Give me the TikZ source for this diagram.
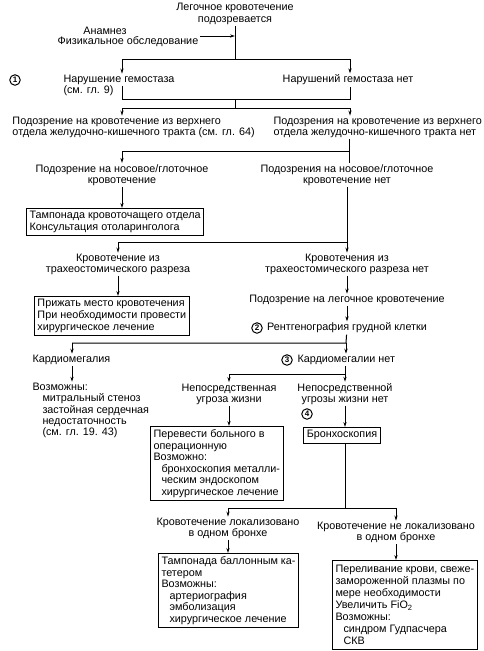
\documentclass[tikz,border=0pt]{standalone}
\usepackage{fontspec}
\setmainfont{Liberation Sans}
\usepackage{tikz}
\usetikzlibrary{arrows.meta}
\usetikzlibrary{calc}

\begin{document}
\begin{tikzpicture}[x=1pt,y=-1pt,line width=1pt,
        font=\fontsize{10.8}{11.2}\selectfont,
        >={Stealth[length=5pt,width=3.2pt]},
        every node/.style={inner sep=1pt},
        txt/.style={align=center},
        lft/.style={align=left},
        box/.style={draw,align=left,inner sep=3pt,font=\fontsize{10.8}{11.6}\selectfont},
        num/.style={draw,circle,inner sep=0pt,minimum size=10.5pt,font=\fontsize{8}{8}\selectfont\bfseries}]
        \useasboundingbox (0,0) rectangle (484,651);

        \node[txt] (suspected) at (235,14) {Легочное кровотечение\\подозревается};
        \node (history) at (105,31) {Анамнез}; \node (exam) at (128,42)
        {Физикальное обследование};
        \node[num] (num1) at (15,80) {1}; \node[lft,anchor=west] (hemo) at
        (62,85.5) {Нарушение гемостаза\\(см. гл. 9)}; \node (nohemo) at
        (348,80) {Нарушений гемостаза нет};
        \node[lft,anchor=west] (upgi) at (11,127.5) {Подозрение на
            кровотечение из верхнего\\отдела желудочно-кишечного тракта (см.
            гл. 64)}; \node[lft,anchor=west] (noupgi) at (272,127.5)
        {Подозрения на кровотечение из верхнего\\отдела
            желудочно-кишечного тракта нет};
        \node[txt] (nasal) at (122,175) {Подозрение на
            носовое/глоточное\\кровотечение}; \node[txt] (nonasal) at
        (347,175) {Подозрения на носовое/глоточное\\кровотечение нет};
        \node[box,anchor=north west] (tamponade) at (26,208) {Тампонада
            кровоточащего отдела\\Консультация отоларинголога};
        \node[txt] (trach) at (118,264.5) {Кровотечение
            из\\трахеостомического разреза}; \node[txt] (notrach) at
        (347,264.5) {Кровотечения из\\трахеостомического разреза нет};
        \node[box,anchor=north west] (press) at (34,296) {Прижать место
            кровотечения\\При необходимости провести\\хирургическое
            лечение};
        \node (pulm) at (347,300) {Подозрение на легочное кровотечение};
        \node[num] (num2) at (257,328) {2}; \node (xray) at (347,328)
        {Рентгенография грудной клетки};
        \node[lft,anchor=west] (cardio) at (31,360) {Кардиомегалия};
        \node[num] (num3) at (287,360) {3}; \node[anchor=west] (nocardio)
        at (296,360) {Кардиомегалии нет};
        \node[lft,anchor=west] (possible) at (31,410.5)
        {Возможны:\\\hspace*{10pt}митральный стеноз\\\hspace*{10pt}застойная
            сердечная\\\hspace*{10pt}недостаточность\\\hspace*{10pt}(см. гл.
            19. 43)};
        \node[txt] (threat) at (229,394) {Непосредственная\\угроза жизни};
        \node[txt] (nothreat) at (345,394) {Непосредственной\\угрозы жизни
            нет};
        \node[box,anchor=north west] (theatre) at (150,426) {Перевести
            больного в\\операционную\\Возможно:\\\hspace*{8pt}бронхоскопия
            металли-\\\hspace*{8pt}ческим эндоскопом\\\hspace*{8pt}хирургическое
            лечение};
        \node[num] (num4) at (307,414) {4}; \node[box,anchor=north]
        (bronch) at (342,427) {Бронхоскопия};
        \node[txt] (local) at (228,528.5) {Кровотечение локализовано\\в
            одном бронхе}; \node[txt] (nolocal) at (396,532.5) {Кровотечение
            не локализовано\\в одном бронхе};
        \node[box,anchor=north west] (balloon) at (158,553) {Тампонада
            баллонным ка-\\тетером\\Возможны:\\\hspace*{8pt}артериография\\
            \hspace*{8pt}эмболизация\\\hspace*{8pt}хирургическое лечение};
        \node[box,anchor=north west,inner ysep=5pt,
        font=\fontsize{10.8}{11.9}\selectfont] (transfuse) at (332,560)
        {Переливание крови, свеже-\\замороженной плазмы по\\мере
            необходимости\\Увеличить FiO\textsubscript{2}\\Возможны:\\\hspace*{8pt}синдром
            Гудпасчера\\\hspace*{8pt}СКВ};

        \coordinate (ja) at (235,36); \coordinate (a0) at (235,59);
        \coordinate (a1) at (122,59); \coordinate (a2) at (350,59);
        \coordinate (b0) at (235,99); \coordinate (b1) at (122,99);
        \coordinate (b2) at (350,99); \coordinate (c0) at (235,108);
        \coordinate (c1) at (122,108); \coordinate (c2) at (350,108);
        \coordinate (d1) at (122,151); \coordinate (d2) at (349,151);
        \coordinate (e1) at (118,242); \coordinate (e2) at (347,242);
        \coordinate (f1) at (72,343); \coordinate (f2) at (346,343);
        \coordinate (g1) at (229,374); \coordinate (g2) at (345,374);
        \coordinate (h0) at (345,508); \coordinate (h1) at (228,508);
        \coordinate (h2) at (396,508);

        \draw (suspected) -- (a0); \draw[->] (exam.east |- ja) -- (ja);
        \draw (a1) -- (a2); \draw[->] (a1) -- (a1 |- hemo.north);
        \draw[->] (a2) -- (a2 |- nohemo.north);
        \draw (b1 |- hemo.center) -- (b1) -- (b2) -- (b2 |- nohemo.south);
        \draw (b0) -- (c0); \draw (c1) -- (c2);
        \draw[->] (c1) -- (c1 |- upgi.north); \draw[->] (c2) -- (c2 |-
        noupgi.north);
        \draw (d2 |- noupgi.south) -- (d2 |- nonasal.north); \draw (d2) --
        (d1); \draw[->] (d1) -- (d1 |- nasal.north);
        \draw[->] (nasal.south) -- (nasal.south |- tamponade.north);
        \draw (nonasal.south) -- (e2) -- (e1);
        \draw[->] (e1) -- (trach); \draw[->] (e2) -- (notrach);
        \draw[->] (trach.south) -- (trach.south |- press.north);
        \draw[->] (notrach) -- (pulm); \draw[->] (pulm) -- (xray);
        \draw (xray) -- (f2) -- (f1);
        \draw[->] (f1) -- (f1 |- cardio.north); \draw[->] (f2) -- (f2 |-
        nocardio.north);
        \draw[->] (f1 |- cardio.south) -- (f1 |- possible.north);
        \draw (g2 |- nocardio.south) -- (g2) -- (g1);
        \draw[->] (g1) -- (threat); \draw[->] (g2) -- (nothreat);
        \draw[->] (threat.south) -- (threat.south |- theatre.north);
        \draw[->] (nothreat.south) -- (nothreat.south |- bronch.north);
        \draw (bronch.south -| h0) -- (h0); \draw (h1) -- (h2);
        \draw[->] (h1) -- (local); \draw[->] (h2) -- (nolocal);
        \draw[->] (local.south) -- (local.south |- balloon.north);
        \draw[->] (nolocal.south) -- (nolocal.south |- transfuse.north);
    \end{tikzpicture}
\end{document}
